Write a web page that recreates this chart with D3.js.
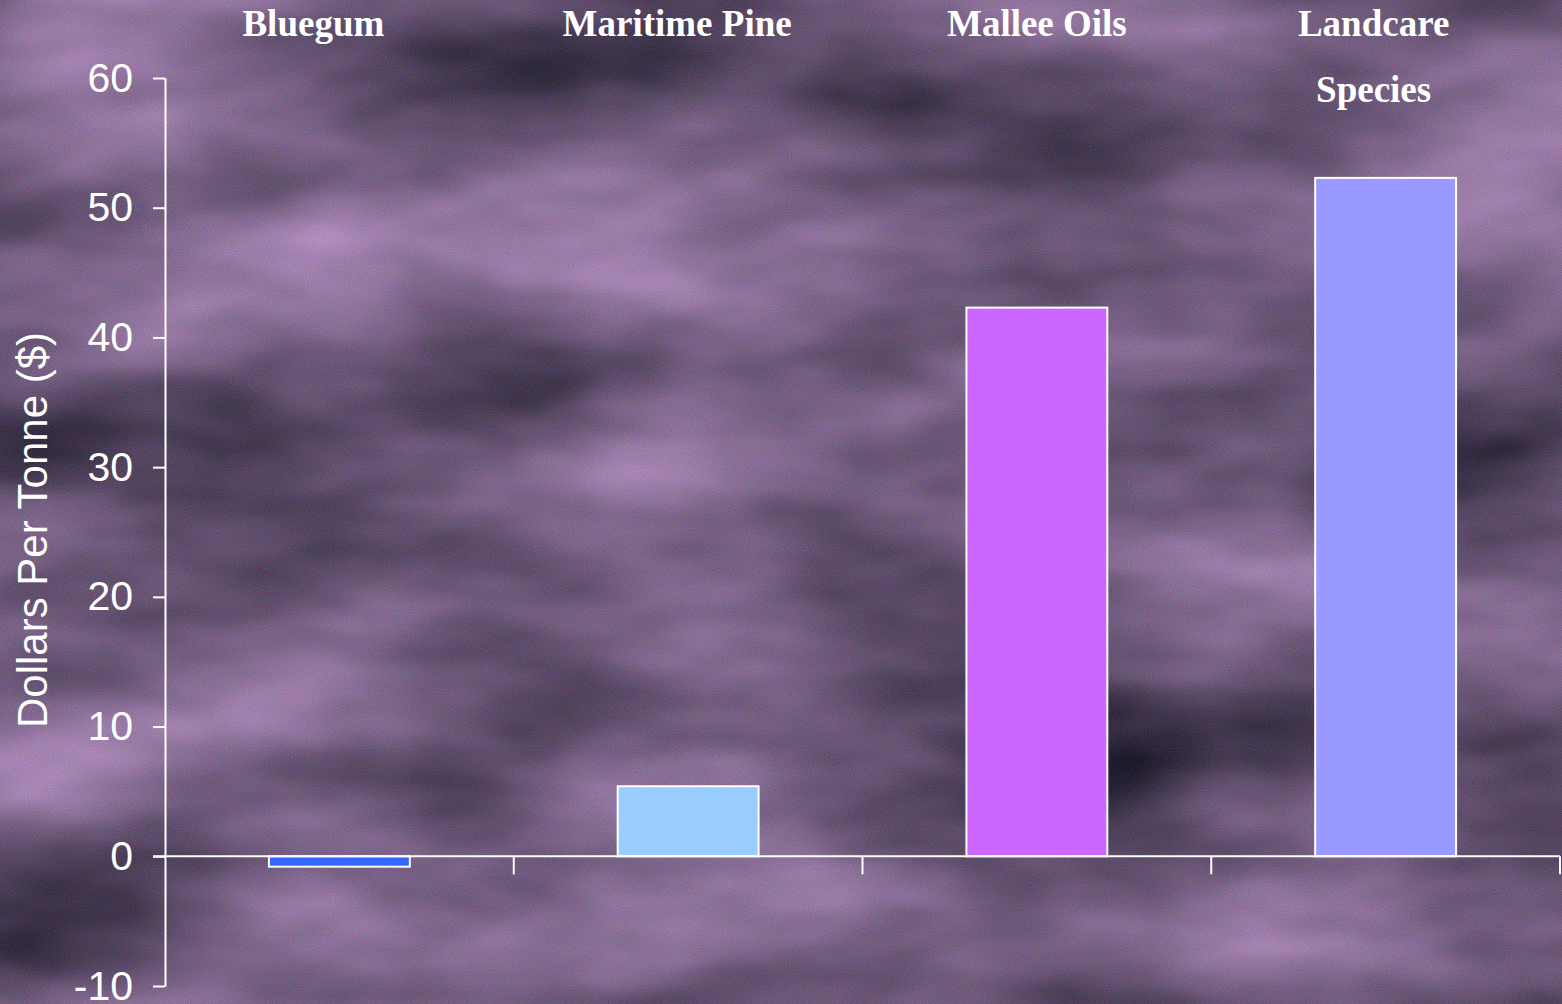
<!DOCTYPE html>
<html>
<head>
<meta charset="utf-8">
<script src="https://cdn.jsdelivr.net/npm/d3@7"></script>
<style>
  html, body { margin: 0; padding: 0; background: #6e5878; }
  svg { display: block; }
</style>
</head>
<body>
<svg id="chart" width="1562" height="1004"></svg>
<script>
// ---- data ----
const categories = ["Bluegum", "Maritime Pine", "Mallee Oils", "Landcare Species"];
const values = [-0.8, 5.4, 42.3, 52.3];
const barColors = ["#3366ff", "#99ccff", "#cc66ff", "#9999ff"];
const yTicks = [-10, 0, 10, 20, 30, 40, 50, 60];
const yTitle = "Dollars Per Tonne ($)";

// ---- layout ----
const W = 1562, H = 1004;
const margin = { left: 165, right: 2, top: 78, bottom: 18 };
const svg = d3.select("#chart");

// background texture
const defs = svg.append("defs");
const f = defs.append("filter").attr("id", "tex")
  .attr("x", 0).attr("y", 0).attr("width", W).attr("height", H)
  .attr("filterUnits", "userSpaceOnUse")
  .attr("color-interpolation-filters", "sRGB");
f.append("feTurbulence").attr("type", "fractalNoise")
  .attr("baseFrequency", "0.0024 0.006").attr("numOctaves", 4).attr("seed", 11).attr("result", "n");
f.append("feColorMatrix").attr("in", "n").attr("type", "matrix")
  .attr("values", "0.72 0 0 0 0.07  0.56 0 0 0 0.07  0.72 0 0 0 0.12  0 0 0 0 1").attr("result", "base");
f.append("feTurbulence").attr("type", "fractalNoise")
  .attr("baseFrequency", "0.95").attr("numOctaves", 1).attr("seed", 2).attr("result", "fine");
f.append("feColorMatrix").attr("in", "fine").attr("type", "matrix")
  .attr("values", "1 0 0 0 0  0 1 0 0 0  0 0 1 0 0  0 0 0 0 1").attr("result", "fine2");
f.append("feComposite").attr("in", "base").attr("in2", "fine2").attr("operator", "arithmetic")
  .attr("k1", 0).attr("k2", 1).attr("k3", 0.2).attr("k4", -0.1);

svg.append("rect").attr("width", W).attr("height", H).attr("fill", "#6e5878").attr("filter", "url(#tex)");

// scales
const y = d3.scaleLinear().domain([-10, 60]).range([H - margin.bottom, margin.top]);
const xOuter = d3.scaleBand().domain(categories).range([margin.left, W - margin.right]).padding(0);
const xBar = d3.scaleBand().domain(categories).range([margin.left, W - margin.right])
  .paddingInner(0.596).paddingOuter(0.298);

// bars
svg.append("g").selectAll("rect").data(categories).join("rect")
  .attr("x", d => xBar(d))
  .attr("width", xBar.bandwidth())
  .attr("y", (d, i) => y(Math.max(0, values[i])))
  .attr("height", (d, i) => Math.abs(y(values[i]) - y(0)))
  .attr("fill", (d, i) => barColors[i])
  .attr("stroke", "#ffffff").attr("stroke-width", 2);

// y axis
const yAxis = svg.append("g").attr("transform", `translate(${margin.left},0)`)
  .call(d3.axisLeft(y).tickValues(yTicks).tickFormat(d => String(d))
    .tickSize(12).tickPadding(20).tickSizeOuter(0));
yAxis.select(".domain").attr("stroke", "#fff").attr("stroke-width", 2);
yAxis.selectAll(".tick line").attr("stroke", "#fff").attr("stroke-width", 2);
yAxis.selectAll(".tick text").attr("fill", "#fff")
  .style("font-family", "'Liberation Sans', Arial, sans-serif").style("font-size", "41px");

// x axis (zero line with ticks at category boundaries)
const y0 = y(0);
const xAxis = svg.append("g");
xAxis.append("line").attr("x1", margin.left - 12).attr("x2", W - margin.right)
  .attr("y1", y0).attr("y2", y0).attr("stroke", "#fff").attr("stroke-width", 2);
xAxis.selectAll("line.tk").data(categories).join("line").attr("class", "tk")
  .attr("x1", d => xOuter(d) + xOuter.bandwidth())
  .attr("x2", d => xOuter(d) + xOuter.bandwidth())
  .attr("y1", y0).attr("y2", y0 + 18)
  .attr("stroke", "#fff").attr("stroke-width", 2);

// category labels at top
const labelNudge = [-26, -11, 0, -12];
const catG = svg.append("g")
  .style("font-family", "'Liberation Serif', 'Times New Roman', serif")
  .style("font-weight", "bold").style("font-size", "37px").attr("fill", "#fff");
categories.forEach((c, i) => {
  const cx = xOuter(c) + xOuter.bandwidth() / 2 + labelNudge[i];
  const words = c === "Landcare Species" ? ["Landcare", "Species"] : [c];
  words.forEach((w, j) => {
    catG.append("text").attr("x", cx).attr("y", 36 + j * 66)
      .attr("text-anchor", "middle").text(w);
  });
});

// y title
svg.append("text")
  .attr("transform", `translate(47,${530}) rotate(-90)`)
  .attr("text-anchor", "middle").attr("fill", "#fff")
  .style("font-family", "'Liberation Sans', Arial, sans-serif").style("font-size", "42px")
  .text(yTitle);
</script>
</body>
</html>
